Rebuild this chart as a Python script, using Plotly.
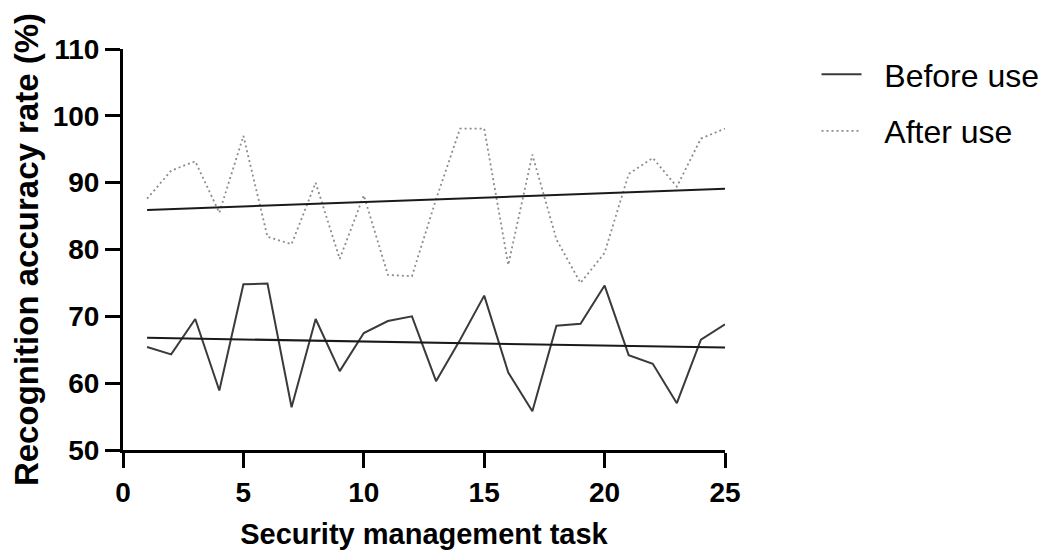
import numpy as np
import plotly.graph_objects as go

tasks = list(range(1, 26))
before_use = [65.4, 64.3, 69.6, 58.9, 74.8, 74.9, 56.4, 69.6, 61.8, 67.5,
              69.3, 70.0, 60.3, 66.5, 73.1, 61.6, 55.8, 68.6, 68.9, 74.6,
              64.2, 62.9, 57.0, 66.5, 68.8]
after_use = [87.6, 91.8, 93.2, 85.5, 97.0, 81.9, 80.8, 90.0, 78.6, 88.1,
             76.2, 76.0, 87.5, 98.1, 98.1, 77.7, 94.2, 81.5, 75.0, 79.5,
             91.3, 93.7, 89.4, 96.6, 98.1]
x_ticks = [0, 5, 10, 15, 20, 25]
y_ticks = [50, 60, 70, 80, 90, 100, 110]
series_names = ["Before use", "After use"]

FONT = "Liberation Sans, Arial, sans-serif"
PAD = "\u00a0\u00a0"

def fit(xs, ys):
    m, b = np.polyfit(xs, ys, 1)
    xs = np.array(xs)
    return xs, m * xs + b

fig = go.Figure()
fig.add_trace(go.Scatter(x=tasks, y=before_use, mode="lines", name=PAD + series_names[0],
                         line=dict(color="#3a3a3a", width=2), legendgroup="a"))
fig.add_trace(go.Scatter(x=tasks, y=after_use, mode="lines", name=PAD + series_names[1],
                         line=dict(color="#8c8c8c", width=1.8, dash="2px,3px"),
                         legendgroup="b"))
fx, fy = fit(tasks, before_use)
fig.add_trace(go.Scatter(x=fx, y=fy, mode="lines", showlegend=False,
                         line=dict(color="#1a1a1a", width=2)))
fx, fy = fit(tasks, after_use)
fig.add_trace(go.Scatter(x=fx, y=fy, mode="lines", showlegend=False,
                         line=dict(color="#1a1a1a", width=2)))

axis_common = dict(showline=True, linecolor="black", linewidth=3, ticks="outside",
                   ticklen=15, tickwidth=3, tickcolor="black", showgrid=False,
                   zeroline=False, mirror=False,
                   tickfont=dict(family=FONT, size=28, color="black", weight="bold"))

fig.update_xaxes(range=[0, 25], tickvals=x_ticks, **axis_common,
                 title=dict(text="Security management task", standoff=18,
                            font=dict(family=FONT, size=29, color="black", weight="bold")))
fig.update_yaxes(range=[50, 110], tickvals=y_ticks, **axis_common,
                 title=dict(text="Recognition accuracy rate (%)", standoff=13,
                            font=dict(family=FONT, size=33, color="black", weight="bold")))

# page body adds an 8px offset; compensate so the plot lands where the reference has it
fig.update_layout(
    width=1040, height=545,
    margin=dict(l=115, r=323, t=41, b=103, autoexpand=False),
    plot_bgcolor="white", paper_bgcolor="white",
    font=dict(family=FONT, color="black"),
    legend=dict(x=1.152, y=1.005, xanchor="left", yanchor="top",
                font=dict(family=FONT, size=32, color="black"),
                tracegroupgap=12, itemwidth=40, bgcolor="rgba(0,0,0,0)"),
)

fig.write_html("out.html")
